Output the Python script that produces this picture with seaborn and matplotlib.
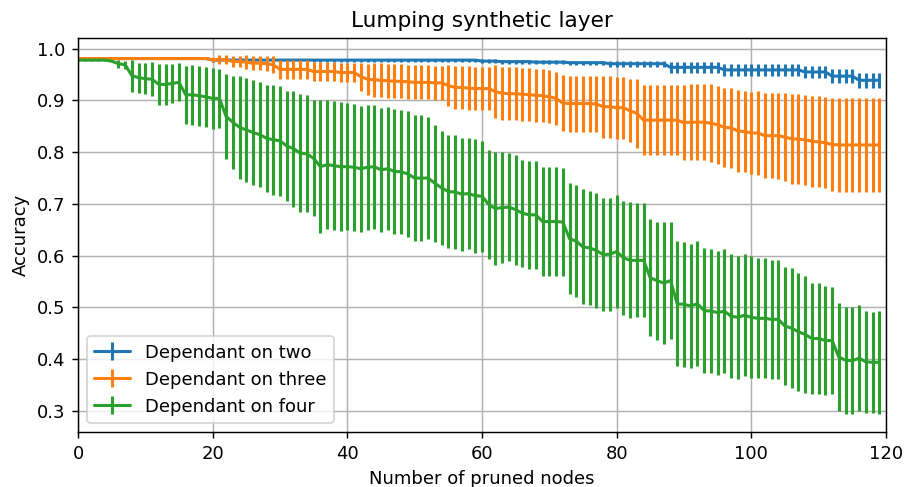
import numpy as np
import pandas as pd
import matplotlib
matplotlib.use("Agg")
import matplotlib.pyplot as plt
import seaborn as sns

nodes = list(range(120))

series_names = ["Dependant on two", "Dependant on three", "Dependant on four"]

two_mean = ([0.981] * 20 + [0.978] * 40 +
            [0.976, 0.976, 0.976, 0.975, 0.975, 0.975, 0.975, 0.975, 0.974, 0.974,
             0.974, 0.974, 0.974, 0.973, 0.973, 0.973, 0.973, 0.973, 0.973] +
            [0.971] * 9 + [0.964] * 8 + [0.959] * 12 + [0.955] * 4 + [0.947] * 4 + [0.939] * 4)
two_err = ([0.001] * 20 + [0.003] * 40 + [0.004] * 19 + [0.006] * 9 + [0.011] * 8 +
           [0.012] * 12 + [0.012] * 4 + [0.013] * 4 + [0.014] * 4)

three_mean = ([0.981] * 20 + [0.979] * 3 + [0.975, 0.975, 0.974] + [0.972, 0.972, 0.971] + [0.969] +
              [0.960] * 5 + [0.956] * 4 + [0.954] * 3 + [0.946, 0.941] +
              [0.940, 0.939, 0.938, 0.937, 0.937, 0.936, 0.935, 0.935, 0.935, 0.934, 0.934] +
              [0.929] + [0.925, 0.925, 0.924, 0.923, 0.923, 0.923] + [0.917] +
              [0.914, 0.913, 0.913, 0.912, 0.911] + [0.910, 0.909] + [0.907] + [0.904] +
              [0.895, 0.894, 0.894, 0.894, 0.894, 0.893] + [0.888, 0.888, 0.886, 0.886] +
              [0.880] + [0.875] + [0.862] * 6 + [0.857, 0.858, 0.858, 0.858, 0.856, 0.853] +
              [0.848, 0.847] + [0.841, 0.840] + [0.837, 0.837] + [0.832] * 3 + [0.829] +
              [0.826, 0.825, 0.824] + [0.821, 0.820, 0.818] + [0.815] + [0.814] * 7)
three_err = ([0.001] * 20 + [0.004, 0.008, 0.008, 0.010, 0.010, 0.013, 0.013, 0.014, 0.014, 0.016] +
             [0.019] * 12 + [0.027, 0.030] + [0.033] * 11 + [0.040] + [0.042] * 6 +
             [0.051] * 10 + [0.054] * 6 + [0.060] * 4 + [0.061, 0.067] + [0.068] * 6 +
             [0.073] * 4 + [0.075] * 2 + [0.077] * 2 + [0.079] * 2 +
             [0.080, 0.081, 0.082, 0.082, 0.083] + [0.085] + [0.087] * 3 + [0.088] * 3 + [0.090] * 8)

four_mean = ([0.978] * 5 +
             [0.976, 0.971, 0.969, 0.948, 0.944, 0.942, 0.941, 0.931, 0.931, 0.933,
              0.935, 0.911, 0.911, 0.909, 0.907, 0.904, 0.904, 0.869, 0.858, 0.848,
              0.843, 0.838, 0.834, 0.827, 0.824, 0.822, 0.812, 0.807, 0.798, 0.797,
              0.788, 0.772, 0.776, 0.774, 0.772,
              0.772, 0.771, 0.768, 0.771, 0.772, 0.766, 0.768, 0.763, 0.762, 0.758,
              0.750, 0.750, 0.750, 0.740, 0.731, 0.724, 0.723, 0.719, 0.720, 0.716,
              0.715, 0.699, 0.691, 0.693, 0.694, 0.689, 0.682, 0.679, 0.679, 0.666,
              0.666, 0.666, 0.665, 0.633, 0.628, 0.617, 0.615, 0.610, 0.602, 0.603,
              0.608, 0.596, 0.591, 0.591, 0.591, 0.557, 0.552, 0.547, 0.552, 0.507,
              0.506, 0.503, 0.507, 0.494, 0.493, 0.490, 0.493, 0.483, 0.481, 0.485,
              0.481, 0.479, 0.479, 0.477, 0.477, 0.464, 0.460, 0.453, 0.448, 0.440,
              0.440, 0.436, 0.436, 0.404, 0.398, 0.397, 0.402, 0.395, 0.394, 0.394])
four_err = ([0.001] * 5 + [0.002, 0.008, 0.008] +
            [0.031, 0.029, 0.030, 0.033, 0.040, 0.040, 0.038, 0.037, 0.056, 0.058,
             0.058, 0.058, 0.059, 0.057, 0.083, 0.090, 0.099, 0.100, 0.102, 0.101,
             0.103, 0.106, 0.106, 0.107, 0.112, 0.114, 0.113, 0.112, 0.129, 0.125,
             0.124, 0.125] +
            [0.123, 0.123, 0.122, 0.121, 0.120, 0.120, 0.119, 0.121, 0.120, 0.121] +
            [0.122, 0.121, 0.118] +
            [0.113, 0.110, 0.110, 0.111, 0.109, 0.108, 0.110, 0.107] +
            [0.106, 0.109, 0.107, 0.105, 0.106, 0.103, 0.104, 0.104, 0.106, 0.106, 0.105, 0.105] +
            [0.107, 0.108, 0.111, 0.111, 0.111, 0.109, 0.109, 0.110] +
            [0.110, 0.112, 0.110, 0.110] +
            [0.113, 0.114, 0.118, 0.113] +
            [0.121, 0.121, 0.120, 0.121, 0.120, 0.120, 0.120, 0.120] +
            [0.120, 0.119, 0.118, 0.118, 0.116, 0.116, 0.115, 0.115] +
            [0.114, 0.116, 0.114, 0.113, 0.108, 0.107, 0.105, 0.103] +
            [0.104, 0.103, 0.103, 0.103, 0.098, 0.098, 0.099])

sns.set_style("ticks", rc={
    "axes.edgecolor": "black", "text.color": "black", "axes.labelcolor": "black",
    "xtick.color": "black", "ytick.color": "black",
    "axes.grid": True, "grid.color": "#b0b0b0", "grid.linewidth": 0.8,
    "axes.linewidth": 0.8,
})
plt.rcParams["font.family"] = ["DejaVu Sans"]

palette = sns.color_palette("tab10", 3)

frames = []
for name, m, e in zip(series_names, [two_mean, three_mean, four_mean], [two_err, three_err, four_err]):
    frames.append(pd.DataFrame({"nodes": nodes, "acc": m, "err": e, "series": name}))
df = pd.concat(frames, ignore_index=True)

fig = plt.figure(figsize=(905 / 130, 487 / 130), dpi=130)
ax = fig.add_axes([78 / 905, 1 - 432 / 487, (886 - 78) / 905, (432 - 37.5) / 487])

handles = []
for name, color in zip(series_names, palette):
    sub = df[df["series"] == name]
    eb = ax.errorbar(sub["nodes"], sub["acc"], yerr=sub["err"], fmt="none",
                     ecolor=color, elinewidth=1.7, capsize=0)
    sns.lineplot(data=sub, x="nodes", y="acc", color=color, linewidth=1.7, ax=ax,
                 legend=False, errorbar=None)
    handles.append((ax.get_lines()[-1], eb))

ax.set_xlim(0, 120)
ax.set_xticks([0, 20, 40, 60, 80, 100, 120])
ax.set_yticks([0.3, 0.4, 0.5, 0.6, 0.7, 0.8, 0.9, 1.0])
ax.set_xlabel("Number of pruned nodes")
ax.set_ylabel("Accuracy")
ax.set_title("Lumping synthetic layer", fontsize=12)
ax.grid(True, color="#b0b0b0", linewidth=0.8)
ax.set_axisbelow(True)
ax.legend(handles, series_names, loc="lower left")

fig.savefig("out.png", dpi=130)
